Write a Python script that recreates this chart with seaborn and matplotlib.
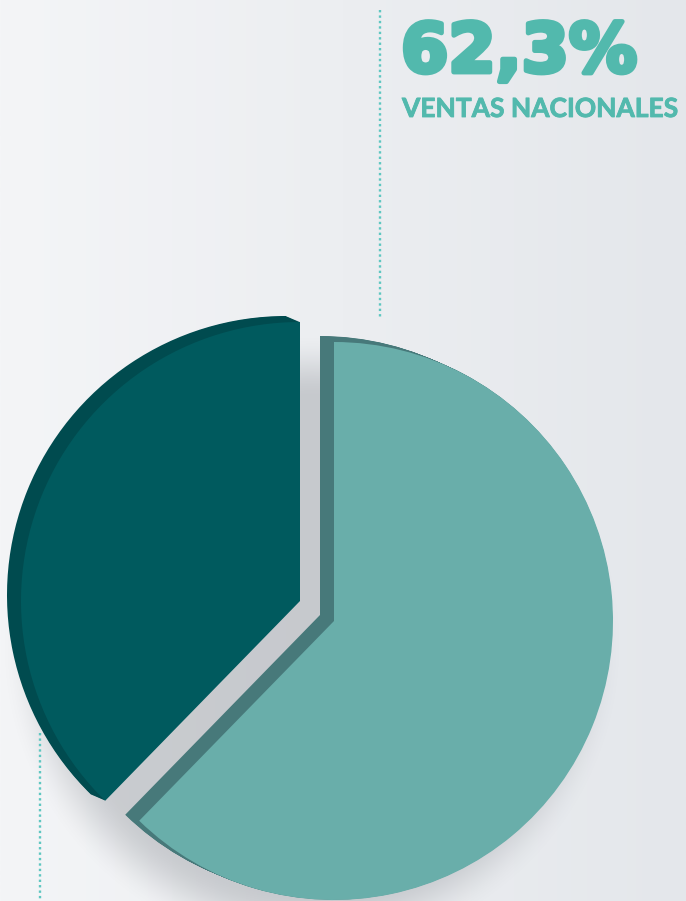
import numpy as np
import matplotlib
matplotlib.use("Agg")
import matplotlib.pyplot as plt
import matplotlib.patheffects as pe
import seaborn as sns
from matplotlib.colors import LinearSegmentedColormap, to_rgb

# data
segments = ["Ventas nacionales", "Otras ventas"]
shares = [62.3, 37.7]
headline = "62,3%"
headline_label = "VENTAS NACIONALES"

face_colors = ["#69AEAA", "#005A5E"]
side_colors = ["#47797A", "#004B4F"]
accent = "#52B9AD"
dot_color = "#5EC7C1"

W, H = 686, 901
R = 279
# each slice is drawn from its own centre (the dark one is pulled out)
centers = [(334, H - 621), (300, H - 601)]
depth = np.array([-14, 6])

sns.set_theme(style="white")

fig = plt.figure(figsize=(W / 100, H / 100), dpi=100)
ax = fig.add_axes([0, 0, 1, 1])

# background gradient
grad = np.linspace(0, 1, 256)[None, :]
bg = LinearSegmentedColormap.from_list("bg", ["#F4F5F7", "#E4E7EB"])
ax.imshow(grad, cmap=bg, extent=(0, W, 0, H), aspect="auto", origin="lower", zorder=0)

# soft drop shadow under the pie
yy, xx = np.mgrid[0:H, 0:W] + 0.5
d = np.hypot(xx - 312, yy - (H - 645))
a = np.clip((R + 32 - d) / 64, 0, 1)
a = a * a * (3 - 2 * a) * 0.40
shadow = np.zeros((H, W, 4))
shadow[..., :3] = to_rgb("#8E9298")
shadow[..., 3] = a
ax.imshow(shadow, extent=(0, W, 0, H), origin="lower", aspect="auto", zorder=1)

# draw dark slice first, then light slice; each extruded for a 3D look
for idx in [1, 0]:
    cx, cy = centers[idx]
    for k in np.linspace(1, 0.05, 14):
        ox, oy = depth * k
        cols = ["none", "none"]
        cols[idx] = side_colors[idx]
        ax.pie(shares, startangle=90, counterclock=False, radius=R,
               center=(cx + ox, cy + oy), colors=cols, frame=True,
               wedgeprops=dict(linewidth=0, zorder=2))
    cols = ["none", "none"]
    cols[idx] = face_colors[idx]
    ax.pie(shares, startangle=90, counterclock=False, radius=R,
           center=(cx, cy), colors=cols, frame=True,
           wedgeprops=dict(linewidth=0, zorder=3))

# dotted leader lines
dots = dict(color=dot_color, lw=1.7, linestyle=(0, (1, 1.3)), zorder=4)
ax.plot([380, 380], [H - 10, H - 318], **dots)
ax.plot([40, 40], [H - 733, 0], **dots)

# headline
ax.text(401, H - 72, headline, ha="left", va="baseline", fontsize=49,
        fontweight="bold", color=accent, family="DejaVu Sans", zorder=5,
        path_effects=[pe.withStroke(linewidth=3.5, foreground=accent)])
ax.text(402, H - 117, headline_label, ha="left", va="baseline", fontsize=19,
        fontweight="bold", color=accent, family="Lato", zorder=5,
        path_effects=[pe.withStroke(linewidth=0.6, foreground=accent)])

ax.set_xlim(0, W)
ax.set_ylim(0, H)
ax.set_aspect("auto")
ax.axis("off")

fig.savefig("out.png", dpi=100)
